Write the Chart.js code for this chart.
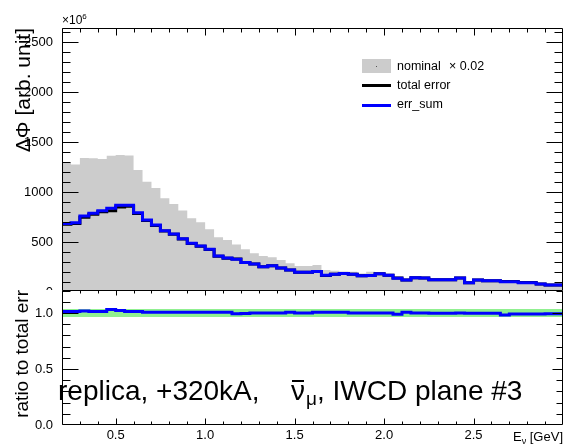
<!DOCTYPE html>
<html>
<head>
<meta charset="utf-8">
<title>flux error breakdown</title>
<script src="https://cdn.jsdelivr.net/npm/chart.js@4.4.1/dist/chart.umd.min.js"></script>
<style>
  body { margin: 0; background: #fff; }
  #plot { position: relative; width: 564px; height: 445px; overflow: hidden;
          font-family: "Liberation Sans", Arial, Helvetica, sans-serif; color: #000; }
  canvas { position: absolute; left: 0; }
  #upper { top: 0; }
  #lower { top: 280px; }
  .txt { position: absolute; white-space: nowrap; line-height: 1; }
  .vtitle { position: absolute; white-space: nowrap; line-height: 1; text-align: right;
            transform-origin: left top; transform: rotate(-90deg); }
</style>
</head>
<body>
<div id="plot">
  <canvas id="upper" width="564" height="300"></canvas>
  <canvas id="lower" width="564" height="165"></canvas>

  <div class="txt" style="left:62px; top:14px; font-size:12px;">×10<span style="font-size:8px; position:relative; top:-5px;">6</span></div>
  <div class="vtitle" style="left:12px; top:228px; width:200px; font-size:21px;">ΔΦ [arb. unit]</div>
  <div class="vtitle" style="left:12px; top:440px; width:150px; font-size:19px;">ratio to total err</div>

  <!-- legend -->
  <div style="position:absolute; left:362px; top:59px; width:29px; height:14px; background:#cccccc;">
    <div style="position:absolute; left:14px; top:7px; width:1px; height:1px; background:#555;"></div>
  </div>
  <div style="position:absolute; left:362px; top:84px; width:29px; height:3px; background:#000;"></div>
  <div style="position:absolute; left:362px; top:104px; width:29px; height:3px; background:#0000ff;"></div>
  <div class="txt" style="left:397px; top:60px; font-size:12.5px;">nominal</div>
  <div class="txt" style="left:449px; top:60px; font-size:12.5px;">× 0.02</div>
  <div class="txt" style="left:397px; top:79px; font-size:12.5px;">total error</div>
  <div class="txt" style="left:397px; top:98px; font-size:12.5px;">err_sum</div>

  <!-- plot label -->
  <div class="txt" style="left:58px; top:377px; font-size:28px;">replica, +320kA,</div>
  <div class="txt" style="left:291px; top:377px; font-size:28px;"><span style="position:relative;">ν<span style="position:absolute; left:1px; right:1px; top:5px; border-top:2px solid #000;"></span></span><span style="font-size:19px; position:relative; top:5px; margin-left:1px;">μ</span>, IWCD plane #3</div>

  <div class="txt" style="right:1px; top:430px; font-size:13px;">E<span style="font-size:9px; position:relative; top:3px;">ν</span> [GeV]</div>
</div>

<script>
// 0.05 GeV bins from 0.2 to 3.0 GeV
const binEdges = [0.20, 0.25, 0.30, 0.35, 0.40, 0.45, 0.50, 0.55, 0.60, 0.65,
                  0.70, 0.75, 0.80, 0.85, 0.90, 0.95, 1.00, 1.05, 1.10, 1.15,
                  1.20, 1.25, 1.30, 1.35, 1.40, 1.45, 1.50, 1.55, 1.60, 1.65,
                  1.70, 1.75, 1.80, 1.85, 1.90, 1.95, 2.00, 2.05, 2.10, 2.15,
                  2.20, 2.25, 2.30, 2.35, 2.40, 2.45, 2.50, 2.55, 2.60, 2.65,
                  2.70, 2.75, 2.80, 2.85, 2.90, 2.95, 3.00];

// nominal flux x 0.02, in units of 1e6
const nominalScaled = [1295, 1275, 1340, 1337, 1330, 1362, 1370, 1365, 1220, 1103,
                       1040, 937, 880, 815, 737, 698, 628, 547, 520, 475,
                       428, 387, 360, 347, 320, 287, 260, 260, 270, 220,
                       212, 205, 203, 185, 203, 190, 178, 153, 130, 150,
                       150, 130, 128, 126, 135, 100, 112, 108, 106, 98,
                       96, 88, 86, 78, 70, 68];

const totalError = [677, 685, 747, 778, 803, 813, 850, 858, 784, 716,
                    666, 609, 577, 529, 484, 457, 424, 358, 338, 329,
                    296, 280, 253, 262, 240, 219, 198, 198, 204, 166,
                    177, 184, 177, 162, 165, 183, 168, 139, 119, 142,
                    141, 123, 123, 123, 140, 93, 120, 113, 113, 105,
                    104, 94, 94, 81, 70, 70];

const errSum = [685, 693, 760, 787, 813, 837, 868, 868, 793, 720,
                670, 613, 580, 532, 487, 460, 427, 360, 340, 327,
                295, 280, 253, 262, 240, 220, 198, 198, 205, 167,
                178, 185, 177, 162, 165, 183, 168, 137, 120, 142,
                141, 123, 123, 123, 140, 93, 120, 113, 113, 103,
                103, 93, 93, 80, 70, 70];

// err_sum / total error
const ratioSum = [1.012, 1.012, 1.018, 1.012, 1.012, 1.030, 1.021, 1.012, 1.012, 1.006,
                  1.006, 1.006, 1.006, 1.006, 1.006, 1.006, 1.006, 1.006, 1.006, 0.994,
                  0.996, 1.000, 1.000, 1.000, 1.000, 1.006, 1.000, 1.000, 1.006, 1.006,
                  1.006, 1.006, 1.000, 1.000, 1.000, 1.000, 1.000, 0.988, 1.006, 1.000,
                  1.000, 0.998, 0.998, 0.998, 1.000, 0.998, 0.998, 0.998, 0.998, 0.982,
                  0.991, 0.991, 0.991, 0.991, 0.994, 0.994];
const ratioBand = [0.965, 1.035];

const upperTicks = [0, 500, 1000, 1500, 2000, 2500];
const lowerTicks = [0.0, 0.5, 1.0];
const energyTicks = [0.5, 1.0, 1.5, 2.0, 2.5];

const FONT = { family: 'Liberation Sans', size: 13 };

// histogram bins -> points at the low edges, closing point at the last edge
function steps(vals) {
  return binEdges.map((x, i) => ({ x: x, y: vals[Math.min(i, vals.length - 1)] }));
}

function range(a, b, step) {
  const out = [];
  for (let v = a; v <= b + 1e-9; v += step) out.push(+v.toFixed(4));
  return out;
}

function fixedTicks(list) {
  return s => { s.ticks = list.map(v => ({ value: v })); };
}

// ROOT-style frame with ticks pointing into the pad
const rootFrame = {
  id: 'rootFrame',
  afterDatasetsDraw(chart, args, o) {
    const { ctx, chartArea: a, scales: { x, y } } = chart;
    const L = Math.round(a.left) + 0.5, R = Math.round(a.right) - 0.5;
    const T = Math.round(a.top) + 0.5, B = Math.round(a.bottom) - 0.5;
    const isMajor = (v, list) => list.some(m => Math.abs(m - v) < 1e-6);
    ctx.save();
    ctx.strokeStyle = '#000';
    ctx.lineWidth = 1;
    ctx.beginPath();
    ctx.moveTo(L, B); ctx.lineTo(L, T); ctx.lineTo(R, T); ctx.lineTo(R, B);
    if (o.bottom) ctx.lineTo(L, B);
    o.yMinor.forEach(v => {
      const py = Math.round(y.getPixelForValue(v)) + 0.5;
      if (py < T || py > B) return;
      const m = isMajor(v, o.yMajor) ? 0 : 1;
      ctx.moveTo(L, py); ctx.lineTo(L + o.left[m], py);
      ctx.moveTo(R, py); ctx.lineTo(R - o.right[m], py);
    });
    o.xMinor.forEach(v => {
      const px = Math.round(x.getPixelForValue(v)) + 0.5;
      if (px < L || px > R) return;
      const m = isMajor(v, o.xMajor) ? 0 : 1;
      ctx.moveTo(px, T); ctx.lineTo(px, T + o.top[m]);
      if (o.bottom) { ctx.moveTo(px, B); ctx.lineTo(px, B - o.bottom[m]); }
    });
    ctx.stroke();
    ctx.restore();
  }
};

const padBackground = {
  id: 'padBackground',
  beforeDraw(chart) {
    const { ctx, chartArea: a, width, height } = chart;
    ctx.save();
    ctx.fillStyle = '#fff';
    ctx.fillRect(0, a.top, width, height - a.top);
    ctx.restore();
  }
};

const xMinor = range(0.2, 3.0, 0.1);
const xMajor = [0.5, 1.0, 1.5, 2.0, 2.5, 3.0];

var upper = new Chart(document.getElementById('upper'), {
  type: 'line',
  data: {
    datasets: [{
      label: 'err_sum',
      data: steps(errSum),
      borderColor: '#0000ff',
      borderWidth: 3,
      stepped: true,
      pointRadius: 0,
      fill: false,
      order: 1
    }, {
      label: 'total error',
      data: steps(totalError),
      borderColor: '#000000',
      borderWidth: 3,
      stepped: true,
      pointRadius: 0,
      fill: false,
      order: 2
    }, {
      label: 'nominal',
      data: steps(nominalScaled),
      borderColor: 'rgba(0,0,0,0)',
      borderWidth: 0,
      backgroundColor: '#cccccc',
      stepped: true,
      pointRadius: 0,
      fill: 'origin',
      order: 3
    }]
  },
  options: {
    responsive: false,
    animation: false,
    events: [],
    layout: { padding: { top: 28, right: 1, bottom: 8, left: 0 } },
    plugins: {
      legend: { display: false },
      tooltip: { enabled: false },
      rootFrame: {
        yMajor: upperTicks, yMinor: range(0, 2600, 100),
        xMajor: xMajor, xMinor: xMinor,
        left: [16, 8], right: [16, 8], top: [7, 4], bottom: null
      }
    },
    scales: {
      x: { type: 'linear', min: 0.2, max: 3.0, display: false },
      y: {
        min: 0,
        max: 2640,
        afterFit: s => { s.width = 62; },
        afterBuildTicks: fixedTicks(upperTicks),
        grid: { display: false, drawTicks: true, tickLength: 9 },
        border: { display: false },
        ticks: {
          padding: 0,
          color: '#000',
          font: FONT,
          callback: v => String(v)
        }
      }
    }
  },
  plugins: [rootFrame]
});

var lower = new Chart(document.getElementById('lower'), {
  type: 'line',
  data: {
    datasets: [{
      label: 'err_sum / total',
      data: steps(ratioSum),
      borderColor: '#0000ff',
      borderWidth: 3,
      stepped: true,
      pointRadius: 0,
      fill: false,
      order: 1
    }, {
      label: 'band',
      data: [{ x: binEdges[0], y: ratioBand[1] }, { x: binEdges[binEdges.length - 1], y: ratioBand[1] }],
      borderColor: 'rgba(0,0,0,0)',
      borderWidth: 0,
      backgroundColor: '#90f090',
      pointRadius: 0,
      fill: { value: ratioBand[0] },
      order: 2
    }]
  },
  options: {
    responsive: false,
    animation: false,
    events: [],
    layout: { padding: { top: 10, right: 1, bottom: 0, left: 0 } },
    plugins: {
      legend: { display: false },
      tooltip: { enabled: false },
      rootFrame: {
        yMajor: lowerTicks, yMinor: range(0, 1.2, 0.1),
        xMajor: xMajor, xMinor: xMinor,
        left: [16, 8], right: [10, 6], top: [5, 3], bottom: [6, 3]
      }
    },
    scales: {
      x: {
        type: 'linear',
        min: 0.2,
        max: 3.0,
        afterFit: s => { s.height = 20; },
        afterBuildTicks: fixedTicks(energyTicks),
        grid: { display: false, drawTicks: false },
        border: { display: false },
        ticks: {
          padding: 3,
          maxRotation: 0,
          autoSkip: false,
          color: '#000',
          font: FONT,
          callback: v => v.toFixed(1)
        }
      },
      y: {
        min: 0,
        max: 1.205,
        afterFit: s => { s.width = 62; },
        afterBuildTicks: fixedTicks(lowerTicks),
        grid: { display: false, drawTicks: true, tickLength: 9 },
        border: { display: false },
        ticks: {
          padding: 0,
          color: '#000',
          font: FONT,
          callback: v => v.toFixed(1)
        }
      }
    }
  },
  plugins: [padBackground, rootFrame]
});
</script>
</body>
</html>
